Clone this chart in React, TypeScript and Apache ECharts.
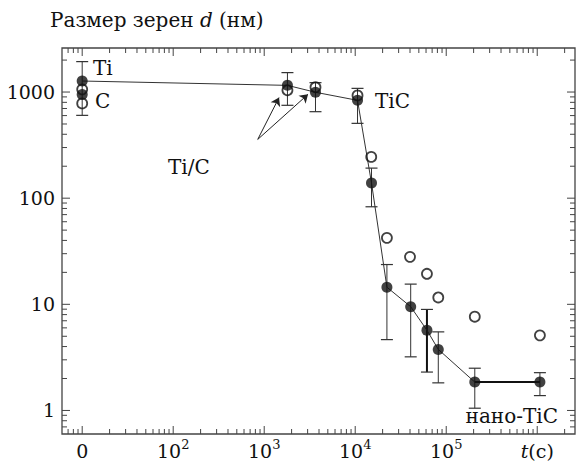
import React, { useEffect, useRef } from 'react';
import * as echarts from 'echarts';

// ---- data ----
const tFilled = [10, 1800, 3660, 10600, 15100, 22300, 40700, 61400, 81800, 206000, 1070000];
const dFilled = [1270, 1156, 995, 835, 139, 14.5, 9.5, 5.7, 3.76, 1.85, 1.85];
const errLow = [603, 750, 653, 507, 83, 4.65, 3.2, 2.3, 1.82, 1.05, 1.38];
const errHigh = [1935, 1524, 1226, 1083, 192, 23.7, 15.5, 8.95, 5.5, 2.5, 2.27];
const thickErrIndex = 7;
const tFilledExtra = [10];
const dFilledExtra = [950];
const tOpen = [10, 10, 1800, 3660, 10600, 15000, 22300, 40000, 61400, 81800, 206000, 1070000];
const dOpen = [1060, 782, 1040, 1110, 930, 245, 42.3, 28, 19.4, 11.6, 7.65, 5.1];
const arrowTail = [849, 358];
const arrowHeads = [[1455, 886], [3030, 952]];

// ---- axes ----
const xMin = 6, xMax = 2.6e6, yMin = 0.6, yMax = 2600;
const xMajorTicks = [10, 100, 1000, 1e4, 1e5, 1e6];
const yMajorTicks = [1, 10, 100, 1000];
const xTickLabels: Record<number, string> = { 1: '0', 2: '10{s|2}', 3: '10{s|3}', 4: '10{s|4}', 5: '10{s|5}', 6: '{i|t}(c)' };

function minorTicks(min: number, max: number) {
  const out: number[] = [];
  for (let e = Math.floor(Math.log10(min)); e <= Math.ceil(Math.log10(max)); e++) {
    for (let m = 2; m <= 9; m++) {
      const v = m * Math.pow(10, e);
      if (v > min * 1.001 && v < max * 0.999) out.push(v);
    }
  }
  return out;
}

const FONT = 'DejaVu Serif';
const INK = '#111';
const GRAY = '#444';

function tickSeries(axis: 'x' | 'y', values: number[], len: number) {
  return {
    type: 'custom',
    silent: true,
    z: 5,
    clip: false,
    data: values.map((v) => (axis === 'x' ? [v, 10] : [10, v])),
    renderItem: (params: any, api: any) => {
      const cs = params.coordSys;
      const p = api.coord([api.value(0), api.value(1)]);
      const st = { stroke: GRAY, lineWidth: 1 };
      if (axis === 'x') {
        const b = cs.y + cs.height, t = cs.y;
        return {
          type: 'group',
          children: [
            { type: 'line', shape: { x1: p[0], y1: b, x2: p[0], y2: b - len }, style: st },
            { type: 'line', shape: { x1: p[0], y1: t, x2: p[0], y2: t + len }, style: st },
          ],
        };
      }
      const l = cs.x, r = cs.x + cs.width;
      return {
        type: 'group',
        children: [
          { type: 'line', shape: { x1: l, y1: p[1], x2: l + len, y2: p[1] }, style: st },
          { type: 'line', shape: { x1: r, y1: p[1], x2: r - len, y2: p[1] }, style: st },
        ],
      };
    },
  };
}

const isDecade = (v: number) => Math.abs(Math.log10(v) - Math.round(Math.log10(v))) < 1e-6;
const txt = (x: number, y: number, text: string, size: number, align = 'left') => ({
  type: 'text', x, y,
  style: { text, font: `${size}px "${FONT}"`, fill: INK, textVerticalAlign: 'middle', verticalAlign: 'middle', textAlign: align, align },
});

export default function App() {
  const ref = useRef<HTMLDivElement>(null);
  useEffect(() => {
    if (!ref.current) return;
    const chart = echarts.init(ref.current, undefined, { renderer: 'svg' });
    const filledPairs = tFilled.map((t, i) => [t, dFilled[i]]);
    const option: any = {
      animation: false,
      backgroundColor: '#fff',
      grid: {
        left: 62, right: 1, top: 48, bottom: 34,
        show: true, borderColor: GRAY, borderWidth: 1.3,
        containLabel: false, outerBoundsMode: 'none',
      },
      xAxis: {
        type: 'log', logBase: 10, min: xMin, max: xMax,
        axisLine: { show: false }, axisTick: { show: false }, splitLine: { show: false },
        axisLabel: {
          showMinLabel: false, showMaxLabel: false,
          margin: 4, fontFamily: FONT, fontSize: 19, color: INK, lineHeight: 26,
          formatter: (v: number) => {
            if (!isDecade(v)) return '';
            return xTickLabels[Math.round(Math.log10(v))] || '';
          },
          rich: {
            s: { fontFamily: FONT, fontSize: 13, lineHeight: 14, verticalAlign: 'top', color: INK },
            i: { fontFamily: FONT, fontSize: 19, fontStyle: 'italic', color: INK, lineHeight: 26 },
          },
        },
      },
      yAxis: {
        type: 'log', logBase: 10, min: yMin, max: yMax,
        axisLine: { show: false }, axisTick: { show: false }, splitLine: { show: false },
        axisLabel: {
          showMinLabel: false, showMaxLabel: false,
          margin: 7, fontFamily: FONT, fontSize: 19, color: INK,
          formatter: (v: number) => (isDecade(v) && Math.round(v) >= 1 && Math.round(v) <= 1000 ? String(Math.round(v)) : ''),
        },
      },
      series: [
        tickSeries('x', xMajorTicks, 8),
        tickSeries('x', minorTicks(xMin, xMax), 5),
        tickSeries('y', yMajorTicks, 8),
        tickSeries('y', minorTicks(yMin, yMax), 5),
        {
          type: 'line',
          data: filledPairs,
          showSymbol: false,
          symbol: 'none',
          lineStyle: { color: '#333', width: 1 },
          z: 2,
          markLine: {
            silent: true,
            symbol: ['none', 'arrow'],
            symbolSize: 8,
            label: { show: false },
            lineStyle: { color: '#222', width: 1, type: 'solid' },
            data: arrowHeads.map((h) => [{ coord: arrowTail }, { coord: h }]),
          },
        },
        {
          type: 'line',
          data: filledPairs.slice(9, 11),
          symbol: 'none',
          lineStyle: { color: '#111', width: 2 },
          z: 2,
        },
        {
          type: 'custom',
          z: 2,
          data: tFilled.map((t, i) => [t, errLow[i], errHigh[i], i]),
          renderItem: (params: any, api: any) => {
            const t = api.value(0);
            const lo = api.coord([t, api.value(1)]);
            const hi = api.coord([t, api.value(2)]);
            const thick = api.value(3) === thickErrIndex;
            const st = { stroke: thick ? '#111' : '#333', lineWidth: thick ? 2 : 1 };
            const w = 6;
            return {
              type: 'group',
              children: [
                { type: 'line', shape: { x1: hi[0], y1: hi[1], x2: lo[0], y2: lo[1] }, style: st },
                { type: 'line', shape: { x1: hi[0] - w, y1: hi[1], x2: hi[0] + w, y2: hi[1] }, style: { stroke: '#333', lineWidth: 1.2 } },
                { type: 'line', shape: { x1: lo[0] - w, y1: lo[1], x2: lo[0] + w, y2: lo[1] }, style: { stroke: '#333', lineWidth: 1.2 } },
              ],
            };
          },
        },
        {
          type: 'scatter',
          data: filledPairs.concat(tFilledExtra.map((t, i) => [t, dFilledExtra[i]])),
          symbol: 'circle',
          symbolSize: 11,
          itemStyle: { color: '#111' },
          z: 3,
        },
        {
          type: 'scatter',
          data: tOpen.map((t, i) => [t, dOpen[i]]),
          symbol: 'circle',
          symbolSize: 10,
          itemStyle: { color: 'rgba(0,0,0,0)', borderColor: '#111', borderWidth: 1.8 },
          z: 4,
        },
      ],
      graphic: [
        {
          type: 'text', x: 50, y: 20,
          style: {
            text: '{r|Размер зерен }{i|d}{r| (нм)}',
            font: `20px "${FONT}"`, fill: INK, textVerticalAlign: 'middle', verticalAlign: 'middle',
            rich: {
              r: { fontFamily: FONT, fontSize: 20, color: INK },
              i: { fontFamily: FONT, fontSize: 20, fontStyle: 'italic', color: INK },
            },
          },
        },
        txt(93, 68, 'Ti', 20),
        txt(95, 101, 'C', 20),
        txt(168, 167, 'Ti/C', 20),
        txt(375, 101, 'TiC', 20),
        txt(558, 416, 'нано-TiC', 20, 'right'),
      ],
    };
    chart.setOption(option);
    return () => chart.dispose();
  }, []);
  return <div ref={ref} style={{ width: 576, height: 468, position: 'absolute', left: 0, top: 0 }} />;
}
